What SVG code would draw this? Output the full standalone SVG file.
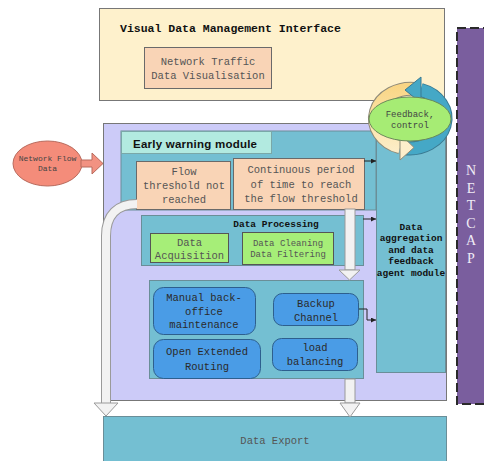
<svg xmlns="http://www.w3.org/2000/svg" width="484" height="461" viewBox="0 0 484 461">
  <defs>
    <style>
      .mono { font-family: "Liberation Mono", "DejaVu Sans Mono", monospace; fill: #555; }
      .bold { font-weight: bold; fill: #111; }
      .box { stroke: #777; stroke-width: 1; }
      .blue { fill: #4a9ce6; stroke: #2d5f8e; stroke-width: 1; }
      .teal { fill: #74bfd2; stroke: #6a8e98; stroke-width: 1; }
      .peach { fill: #f9d4b6; stroke: #6a6a6a; stroke-width: 1; }
      .green { fill: #a6ee78; stroke: #555; stroke-width: 1; }
      .wire { fill: none; stroke: #222; stroke-width: 1; }
      .bigarrow { fill: #f2f2f2; stroke: #9a9a9a; stroke-width: 1; }
      .dark { fill: #2a2a2a; }
    </style>
    <marker id="tip" viewBox="0 0 6 6" refX="6" refY="3" markerWidth="5" markerHeight="5" orient="auto">
      <path d="M0 0 L6 3 L0 6 Z" fill="#222"/>
    </marker>
    <linearGradient id="cream" gradientUnits="userSpaceOnUse" x1="0" y1="85" x2="0" y2="155">
      <stop offset="0" stop-color="#f9d584"/>
      <stop offset="0.45" stop-color="#fbe2a6"/>
      <stop offset="1" stop-color="#fdeecb"/>
    </linearGradient>
  </defs>

  <!-- top: management interface -->
  <g id="visual-interface">
    <rect class="box" x="99.5" y="8.5" width="345" height="92" fill="#fef1cc"/>
    <text class="mono bold" x="120" y="32" font-size="11.5">Visual Data Management Interface</text>
  </g>
  <g id="traffic-visualisation">
    <rect class="peach" x="144.5" y="47.5" width="127" height="41"/>
    <text class="mono" x="208" y="65" font-size="10.5" text-anchor="middle">Network Traffic</text>
    <text class="mono" x="208" y="79" font-size="10.5" text-anchor="middle">Data Visualisation</text>
  </g>

  <!-- NETCAP side bar -->
  <g id="netcap">
    <rect x="457" y="28" width="40" height="376" fill="#7a5e9e" stroke="#2a2a2a" stroke-width="2" stroke-dasharray="9 4"/>
    <g font-family="'Liberation Serif', serif" font-size="14" fill="#f0ecf6" text-anchor="middle">
      <text x="471" y="175">N</text>
      <text x="471" y="193">E</text>
      <text x="471" y="210">T</text>
      <text x="471" y="228">C</text>
      <text x="471" y="245">A</text>
      <text x="471" y="263">P</text>
    </g>
  </g>

  <!-- main platform area -->
  <g id="platform">
    <rect class="box" x="103.5" y="123.5" width="343" height="277" fill="#cccbf8"/>
  </g>

  <!-- early warning module -->
  <g id="early-warning">
    <rect x="121" y="131" width="255" height="79" fill="#74bfd2" stroke="#6a8e98"/>
    <rect x="121.5" y="131.5" width="150" height="22" fill="#b2eae0" stroke="#7aa8a8"/>
    <text x="133" y="148" font-family="'Liberation Sans', Arial, sans-serif" font-weight="bold" font-size="11.5" fill="#111" textLength="124">Early warning module</text>
  </g>
  <g id="threshold-not-reached">
    <rect class="peach" x="136.5" y="161.5" width="94" height="48"/>
    <text class="mono" x="184" y="175" font-size="10.5" text-anchor="middle">Flow</text>
    <text class="mono" x="184" y="189" font-size="10.5" text-anchor="middle">threshold not</text>
    <text class="mono" x="184" y="203" font-size="10.5" text-anchor="middle">reached</text>
  </g>
  <g id="threshold-reached">
    <rect class="peach" x="233.5" y="158.5" width="131" height="51"/>
    <text class="mono" x="301" y="173" font-size="10.5" text-anchor="middle">Continuous period</text>
    <text class="mono" x="301" y="188" font-size="10.5" text-anchor="middle">of time to reach</text>
    <text class="mono" x="301" y="202" font-size="10.5" text-anchor="middle">the flow threshold</text>
  </g>

  <!-- data processing -->
  <g id="data-processing">
    <rect class="teal" x="141.5" y="215.5" width="222" height="50"/>
    <text class="mono bold" x="276" y="227" font-size="9.5" text-anchor="middle">Data Processing</text>
  </g>
  <g id="data-acquisition">
    <rect class="green" x="150.5" y="233.5" width="78" height="29"/>
    <text class="mono" x="189.5" y="246" font-size="10.5" text-anchor="middle">Data</text>
    <text class="mono" x="189.5" y="259" font-size="10.5" text-anchor="middle">Acquisition</text>
  </g>
  <g id="data-cleaning">
    <rect class="green" x="242.5" y="232.5" width="91" height="32"/>
    <text class="mono" x="288" y="246" font-size="9" text-anchor="middle">Data Cleaning</text>
    <text class="mono" x="288" y="257" font-size="9" text-anchor="middle">Data Filtering</text>
  </g>

  <!-- aggregation / feedback agent -->
  <g id="aggregation-agent">
    <rect class="teal" x="376.5" y="131.5" width="69" height="241"/>
    <g class="mono bold" font-size="9.5" text-anchor="middle">
      <text x="411" y="230">Data</text>
      <text x="411" y="241">aggregation</text>
      <text x="411" y="253">and data</text>
      <text x="411" y="264">feedback</text>
      <text x="411" y="276">agent module</text>
    </g>
  </g>

  <!-- routing / maintenance group -->
  <g id="routing-services">
    <rect class="teal" x="149.5" y="280.5" width="214" height="98"/>
  </g>
  <g id="manual-maintenance">
    <rect class="blue" x="153.5" y="287.5" width="102" height="47" rx="10"/>
    <text class="mono dark" x="204" y="301" font-size="10.5" text-anchor="middle">Manual back-</text>
    <text class="mono dark" x="204" y="315" font-size="10.5" text-anchor="middle">office</text>
    <text class="mono dark" x="204" y="328" font-size="10.5" text-anchor="middle">maintenance</text>
  </g>
  <g id="backup-channel">
    <rect class="blue" x="273.5" y="293.5" width="85" height="32" rx="9"/>
    <text class="mono dark" x="316" y="307" font-size="10.5" text-anchor="middle">Backup</text>
    <text class="mono dark" x="316" y="321" font-size="10.5" text-anchor="middle">Channel</text>
  </g>
  <g id="extended-routing">
    <rect class="blue" x="153.5" y="339.5" width="107" height="39" rx="10"/>
    <text class="mono dark" x="207" y="355" font-size="10.5" text-anchor="middle">Open Extended</text>
    <text class="mono dark" x="207" y="370" font-size="10.5" text-anchor="middle">Routing</text>
  </g>
  <g id="load-balancing">
    <rect class="blue" x="272.5" y="338.5" width="85" height="32" rx="9"/>
    <text class="mono dark" x="315" y="351" font-size="10.5" text-anchor="middle">load</text>
    <text class="mono dark" x="315" y="365" font-size="10.5" text-anchor="middle">balancing</text>
  </g>

  <!-- data export -->
  <g id="data-export">
    <rect class="teal" x="103.5" y="416.5" width="343" height="50" fill="#78c0d4"/>
    <text class="mono" x="275" y="444" font-size="10.5" text-anchor="middle">Data Export</text>
  </g>

  <!-- network flow input -->
  <g id="network-flow-data">
    <ellipse cx="47.5" cy="163.5" rx="34.5" ry="22.5" fill="#f48c7a" stroke="#b86a5c"/>
    <text class="mono" x="47.5" y="161" font-size="8" text-anchor="middle" style="fill:#444">Network Flow</text>
    <text class="mono" x="47.5" y="171" font-size="8" text-anchor="middle" style="fill:#444">Data</text>
  </g>

  <!-- feedback / control cycle: two curved arrows round a central ellipse -->
  <g id="feedback-control">
    <path d="M417.5 89.2 A36 30 0 0 0 400.1 147.3" fill="none" stroke="#8f8a78" stroke-width="14"/>
    <path d="M417.5 89.2 A36 30 0 0 0 400.1 147.3" fill="none" stroke="url(#cream)" stroke-width="12"/>
    <path d="M403.7 148 A36 30 0 0 0 420.8 89.9" fill="none" stroke="#3a7a92" stroke-width="14"/>
    <path d="M403.7 148 A36 30 0 0 0 420.8 89.9" fill="none" stroke="#45a8c6" stroke-width="12"/>
    <polygon points="421,77 405,90 421,103" fill="#45a8c6" stroke="#3a7a92"/>
    <polygon points="400,134 414,147.5 400,160" fill="#fdeecb" stroke="#8f8a78"/>
    <ellipse cx="410" cy="119" rx="41" ry="22" fill="#a6ec74" stroke="#6a8a5a"/>
    <text class="mono" x="410" y="117" font-size="9" text-anchor="middle" style="fill:#444">Feedback,</text>
    <text class="mono" x="410" y="128" font-size="9" text-anchor="middle" style="fill:#444">control</text>
  </g>

  <!-- connectors -->
  <g id="connectors">
    <!-- flow data into platform -->
    <polygon points="81,160 92,160 92,153 103,163.5 92,174 92,167 81,167" fill="#f29282" stroke="#b86a5c"/>
    <!-- below threshold: straight to export -->
    <path d="M137 204 C118 204 106 214 106 236 L106 403" fill="none" stroke="#9a9a9a" stroke-width="10"/>
    <path d="M137 204 C118 204 106 214 106 236 L106 403" fill="none" stroke="#f2f2f2" stroke-width="8"/>
    <polygon class="bigarrow" points="94,403 118,403 106,416"/>
    <!-- threshold reached: to routing services -->
    <rect class="bigarrow" x="345" y="209" width="10" height="61"/>
    <polygon class="bigarrow" points="339,270 360,270 349.5,280"/>
    <!-- routing services to export -->
    <rect class="bigarrow" x="345" y="379" width="10" height="24"/>
    <polygon class="bigarrow" points="340,403 360,403 350,417"/>
    <!-- reports to aggregation agent -->
    <line class="wire" x1="364" y1="161" x2="376" y2="161" marker-end="url(#tip)"/>
    <line class="wire" x1="363" y1="219" x2="376" y2="219" marker-end="url(#tip)"/>
    <path class="wire" d="M359 309 H367 V320 H376" marker-end="url(#tip)"/>
  </g>
</svg>
